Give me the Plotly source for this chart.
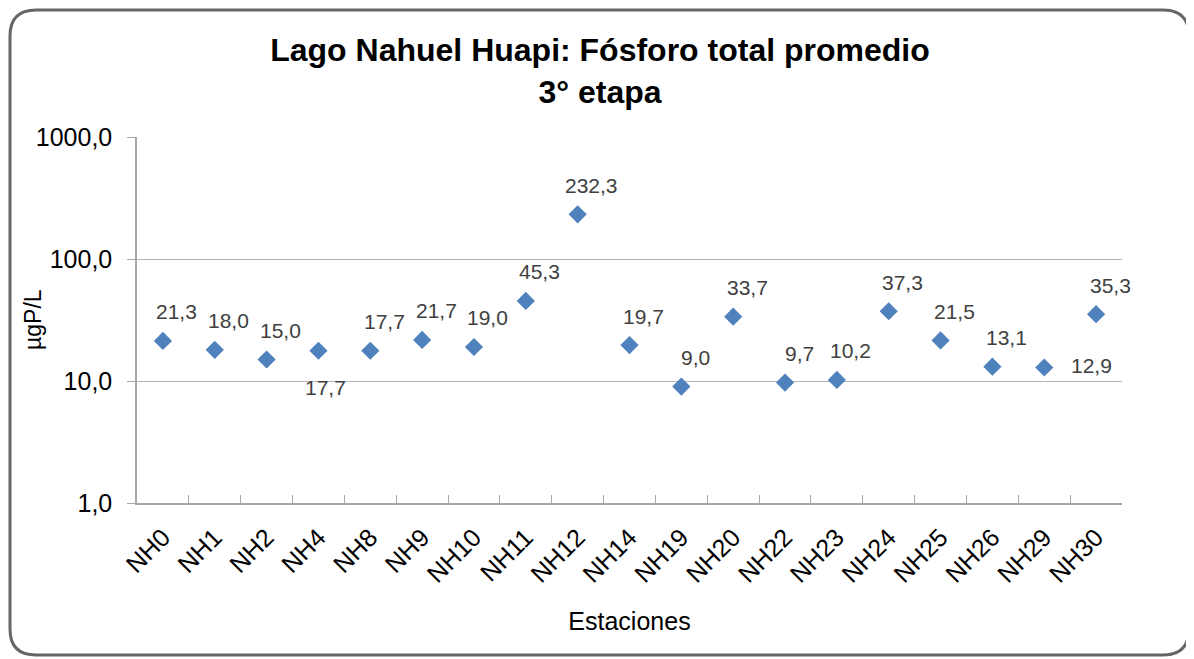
import math
import plotly.graph_objects as go

stations = ["NH0", "NH1", "NH2", "NH4", "NH8", "NH9", "NH10", "NH11", "NH12", "NH14",
            "NH19", "NH20", "NH22", "NH23", "NH24", "NH25", "NH26", "NH29", "NH30"]
fosforo = [21.3, 18.0, 15.0, 17.7, 17.7, 21.7, 19.0, 45.3, 232.3, 19.7,
           9.0, 33.7, 9.7, 10.2, 37.3, 21.5, 13.1, 12.9, 35.3]
labels = ["21,3", "18,0", "15,0", "17,7", "17,7", "21,7", "19,0", "45,3", "232,3", "19,7",
          "9,0", "33,7", "9,7", "10,2", "37,3", "21,5", "13,1", "12,9", "35,3"]
ytick_vals = [1, 10, 100, 1000]
ytick_text = ["1,0", "10,0", "100,0", "1000,0"]

# label offsets (pixels): most above-right, NH4 below, NH29 right
offsets = {"NH4": (7, -37), "NH29": (47, 2)}
default_offset = (14, 29)

FONT = "Liberation Sans, Arial, sans-serif"
# page body has an 8px margin; figure sized to fit the 1194x659 window
W, H = 1186, 651
L, R, T, B = 129, 72, 129, 156
pw, ph = W - L - R, H - T - B
OFF = 8

fig = go.Figure()
fig.add_trace(go.Scatter(
    x=stations, y=fosforo, mode="markers",
    marker=dict(symbol="diamond", size=14, color="#4F81BD"),
    showlegend=False, hoverinfo="skip"))

for s, v, t in zip(stations, fosforo, labels):
    dx, dy = offsets.get(s, default_offset)
    fig.add_annotation(x=s, y=math.log10(v), xref="x", yref="y", text=t, showarrow=False,
                       xshift=dx, yshift=dy,
                       font=dict(family=FONT, size=21, color="#404040"))

def px(x):
    return (x - OFF - L) / pw

def py(y):
    return (H - B - (y - OFF)) / ph

# rounded outer border (page coordinates)
x0, x1, y0, y1, r = 10, 1189, 10, 655, 26
path = (f"M {px(x0 + r)},{py(y0)} L {px(x1 - r)},{py(y0)} "
        f"Q {px(x1)},{py(y0)} {px(x1)},{py(y0 + r)} "
        f"L {px(x1)},{py(y1 - r)} Q {px(x1)},{py(y1)} {px(x1 - r)},{py(y1)} "
        f"L {px(x0 + r)},{py(y1)} Q {px(x0)},{py(y1)} {px(x0)},{py(y1 - r)} "
        f"L {px(x0)},{py(y0 + r)} Q {px(x0)},{py(y0)} {px(x0 + r)},{py(y0)} Z")
fig.add_shape(type="path", path=path, xref="paper", yref="paper",
              line=dict(color="#666666", width=3), layer="below")

# y-axis title as rotated annotation
fig.add_annotation(text="µgP/L", xref="paper", yref="paper", x=px(33), y=py(320),
                   textangle=-90, showarrow=False, xanchor="center", yanchor="middle",
                   font=dict(family=FONT, size=23, color="black"))

fig.update_layout(
    width=W, height=H,
    margin=dict(l=L, r=R, t=T, b=B),
    paper_bgcolor="white", plot_bgcolor="white",
    font=dict(family=FONT, color="black"),
    title=dict(text="<b>Lago Nahuel Huapi: Fósforo total promedio<br>3° etapa</b>",
               x=(600 - OFF) / W, xanchor="center", y=1 - 53 / H, yanchor="top",
               font=dict(size=32, color="black")),
    xaxis=dict(
        type="category", range=[-0.5, len(stations) - 0.5],
        tickangle=-45, tickfont=dict(size=25, color="black"),
        showline=True, linecolor="#a6a6a6", linewidth=1.5,
        ticks="inside", tickson="boundaries", ticklen=8, tickcolor="#a6a6a6",
        ticklabelstandoff=8,
        showgrid=False,
        title=dict(text="Estaciones", font=dict(size=25, color="black"), standoff=26),
    ),
    yaxis=dict(
        type="log", range=[0, 3],
        tickvals=ytick_vals, ticktext=ytick_text,
        tickfont=dict(size=25, color="black"),
        showline=True, linecolor="#a6a6a6", linewidth=1.5,
        ticks="outside", ticklen=8, tickcolor="#a6a6a6",
        ticklabelstandoff=10,
        showgrid=True, gridcolor="#b4b4b4", gridwidth=1.2,
    ),
)

fig.write_html("out.html")
